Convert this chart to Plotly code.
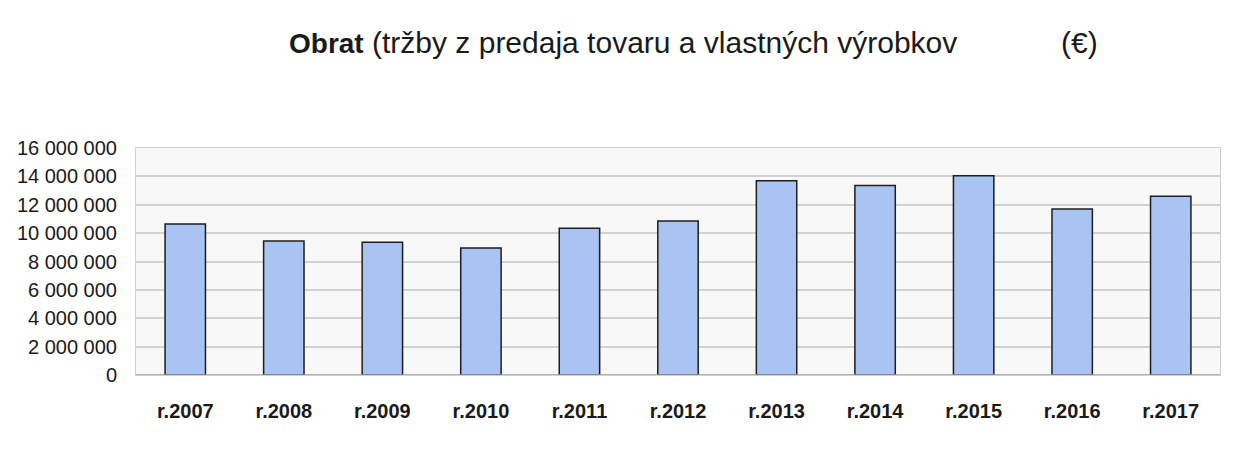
import plotly.graph_objects as go

years = ["r.2007", "r.2008", "r.2009", "r.2010", "r.2011", "r.2012",
         "r.2013", "r.2014", "r.2015", "r.2016", "r.2017"]
obrat = [10650000, 9450000, 9350000, 8950000, 10350000, 10850000,
         13700000, 13350000, 14050000, 11700000, 12600000]
y_ticks = [0, 2000000, 4000000, 6000000, 8000000, 10000000, 12000000, 14000000, 16000000]

FONT = "Liberation Sans, Arial, sans-serif"

L, R, T, B = 136, 14, 148, 100
PW = 1234 - L - R
PH = 475 - T - B

fig = go.Figure()
fig.add_trace(go.Bar(
    x=years, y=obrat,
    marker=dict(color="#a9c3f2", line=dict(color="#1e1e1e", width=1.5)),
    width=0.41,
))

fig.update_layout(
    width=1234, height=475,
    margin=dict(l=L, r=R, t=T, b=B),
    paper_bgcolor="white",
    plot_bgcolor="#f8f8f8",
    separators=". ",
    showlegend=False,
    font=dict(family=FONT, color="#1a1a1a"),
)
fig.update_yaxes(
    range=[0, 16000000], tickvals=y_ticks, tickformat=",d",
    showgrid=True, gridcolor="#d2d2d2", gridwidth=1.5,
    tickfont=dict(size=20, family=FONT, color="#1a1a1a"),
    ticks="outside", ticklen=14, tickcolor="rgba(0,0,0,0)",
    showline=True, linecolor="#d0d0d0", linewidth=1, mirror=True,
    zeroline=False,
)
fig.update_xaxes(
    tickfont=dict(size=20, family=FONT, color="#1a1a1a", weight="bold"),
    ticks="outside", ticklen=18, tickcolor="rgba(0,0,0,0)",
    showline=True, linecolor="#d0d0d0", linewidth=1, mirror=True,
)
fig.add_shape(type="line", xref="paper", yref="y", x0=0, x1=1, y0=0, y1=0,
              line=dict(color="#9a9a9a", width=1.5))

title_y = 1 + (T - 43) / PH
fig.add_annotation(
    xref="paper", yref="paper", x=(287 - L) / PW, y=title_y,
    xanchor="left", yanchor="middle", showarrow=False,
    text="<b><span style='font-size:28px'>Obrat</span></b> (tržby z predaja tovaru a vlastných výrobkov",
    font=dict(size=30, family=FONT, color="#1a1a1a"),
)
fig.add_annotation(
    xref="paper", yref="paper", x=(1059 - L) / PW, y=title_y,
    xanchor="left", yanchor="middle", showarrow=False,
    text="(€)",
    font=dict(size=30, family=FONT, color="#1a1a1a"),
)

fig.write_html("out.html")
